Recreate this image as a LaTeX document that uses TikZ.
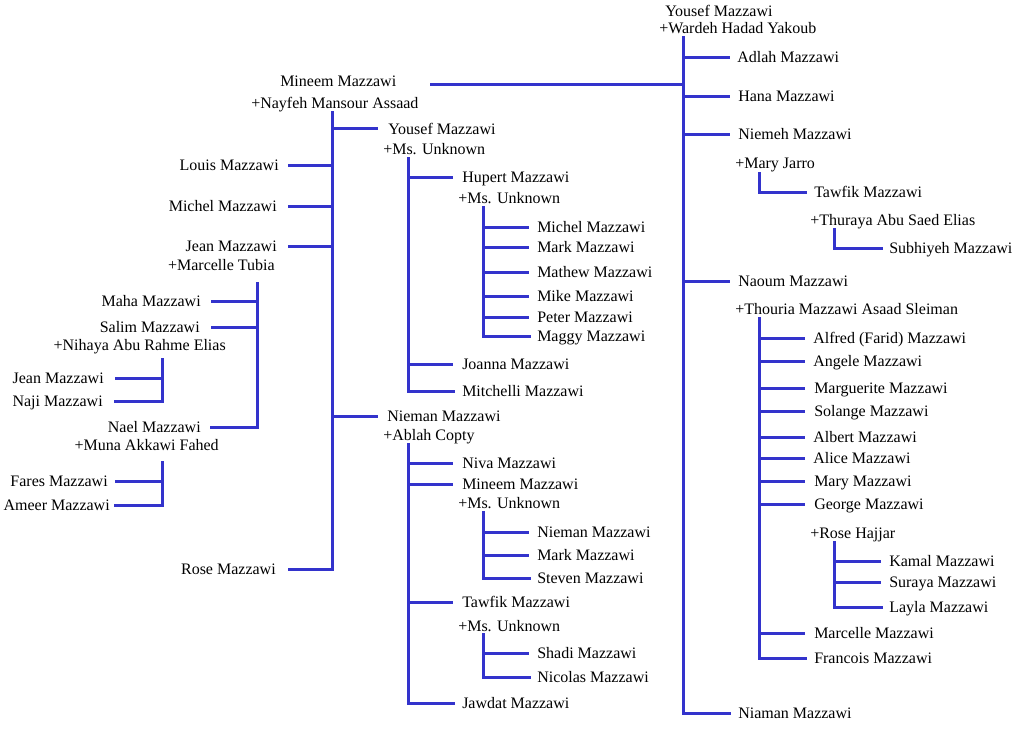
\documentclass[tikz,border=0pt]{standalone}
\usepackage{fontspec}
\setmainfont{Liberation Serif}
\definecolor{treeblue}{RGB}{51,51,204}
\begin{document}
\begin{tikzpicture}[x=0.75pt,y=-0.75pt,
  R/.style={anchor=base west, yshift=-3.75pt, inner sep=0pt, font=\fontsize{12}{14}\selectfont},
  L/.style={anchor=base east, yshift=-3.75pt, inner sep=0pt, font=\fontsize{12}{14}\selectfont},
  bar/.style={draw=treeblue, line width=2.25pt, line cap=rect},
  stub/.style={draw=treeblue, line width=2.25pt}]
\useasboundingbox (0,0) rectangle (1022,729);

% ---------- root (top right) ----------
\node[R] (yousefA) at (665,11) {Yousef Mazzawi};
\node[R] (wardeh) at (659,28) {+Wardeh Hadad Yakoub};
\node[R] (adlah) at (737,57) {Adlah Mazzawi};
\node[R] (hana) at (738,96) {Hana Mazzawi};
\node[R] (niemeh) at (738,134) {Niemeh Mazzawi};
\node[R] (maryj) at (735,163) {+Mary Jarro};
\node[R] (tawfikA) at (814,192) {Tawfik Mazzawi};
\node[R] (thuraya) at (810,220) {+Thuraya Abu Saed Elias};
\node[R] (subhiyeh) at (889,248) {Subhiyeh Mazzawi};
\node[R] (naoum) at (738,281) {Naoum Mazzawi};
\node[R] (thouria) at (735,309) {+Thouria Mazzawi Asaad Sleiman};
\node[R] (alfred) at (813,338) {Alfred (Farid) Mazzawi};
\node[R] (angele) at (813,361) {Angele Mazzawi};
\node[R] (marguerite) at (814,388) {Marguerite Mazzawi};
\node[R] (solange) at (814,411) {Solange Mazzawi};
\node[R] (albert) at (813,437) {Albert Mazzawi};
\node[R] (alice) at (813,458) {Alice Mazzawi};
\node[R] (maryM) at (814,481) {Mary Mazzawi};
\node[R] (george) at (814,504) {George Mazzawi};
\node[R] (roseh) at (810,533) {+Rose Hajjar};
\node[R] (kamal) at (889,561) {Kamal Mazzawi};
\node[R] (suraya) at (889,582) {Suraya Mazzawi};
\node[R] (layla) at (889,607) {Layla Mazzawi};
\node[R] (marcelleM) at (814,633) {Marcelle Mazzawi};
\node[R] (francois) at (814,658) {Francois Mazzawi};
\node[R] (niaman) at (738,713) {Niaman Mazzawi};

\draw[bar] (683,37) -- (683,713) -- (729,713);
\foreach \y in {57,96,134,281} \draw[stub] (683,\y) -- (730,\y);
\draw[stub] (430,84) -- (683,84);
\draw[bar] (759,173) -- (759,192) -- (805,192);
\draw[bar] (834,229) -- (834,248) -- (881,248);
\draw[bar] (759,318) -- (759,658) -- (805,658);
\foreach \y in {338,361,388,411,437,458,481,504,633} \draw[stub] (759,\y) -- (805,\y);
\draw[bar] (834,542) -- (834,607) -- (881,607);
\foreach \y in {561,582} \draw[stub] (834,\y) -- (881,\y);

% ---------- Mineem family ----------
\node[R] (mineemA) at (280,81) {Mineem Mazzawi};
\node[R] (nayfeh) at (251,103) {+Nayfeh Mansour Assaad};

\node[L] (louis) at (279,165) {Louis Mazzawi};
\node[L] (michelA) at (277,206) {Michel Mazzawi};
\node[L] (jeanA) at (277,246) {Jean Mazzawi};
\node[L] (marcelleT) at (275,265) {+Marcelle Tubia};
\node[L] (maha) at (201,301) {Maha Mazzawi};
\node[L] (salim) at (200,327) {Salim Mazzawi};
\node[L] (nihaya) at (226,345) {+Nihaya Abu Rahme Elias};
\node[L] (jeanB) at (104,378) {Jean Mazzawi};
\node[L] (naji) at (103,401) {Naji Mazzawi};
\node[L] (nael) at (201,427) {Nael Mazzawi};
\node[L] (muna) at (219,445) {+Muna Akkawi Fahed};
\node[L] (fares) at (108,481) {Fares Mazzawi};
\node[L] (ameer) at (110,505) {Ameer Mazzawi};
\node[L] (roseM) at (276,569) {Rose Mazzawi};

\draw[bar] (332,112) -- (332,569) -- (289,569);
\foreach \y in {165,206,246} \draw[stub] (332,\y) -- (288,\y);
\foreach \y in {128,416} \draw[stub] (332,\y) -- (378,\y);
\draw[bar] (257,283) -- (257,427) -- (211,427);
\foreach \y in {301,327} \draw[stub] (257,\y) -- (211,\y);
\draw[bar] (162,359) -- (162,401) -- (115,401);
\draw[stub] (162,378) -- (115,378);
\draw[bar] (162,462) -- (162,505) -- (115,505);
\draw[stub] (162,481) -- (115,481);

% ---------- middle ----------
\node[R] (yousefB) at (388,129) {Yousef Mazzawi};
\node[R] (msuA) at (383,149) {+Ms. Unknown};
\node[R] (hupert) at (462,177) {Hupert Mazzawi};
\node[R] (msuB) at (458,198) {+Ms. Unknown};
\node[R] (michelB) at (537,227) {Michel Mazzawi};
\node[R] (markA) at (537,247) {Mark Mazzawi};
\node[R] (mathew) at (537,272) {Mathew Mazzawi};
\node[R] (mike) at (537,296) {Mike Mazzawi};
\node[R] (peter) at (537,317) {Peter Mazzawi};
\node[R] (maggy) at (537,336) {Maggy Mazzawi};
\node[R] (joanna) at (462,364) {Joanna Mazzawi};
\node[R] (mitchelli) at (462,391) {Mitchelli Mazzawi};

\draw[bar] (408,158) -- (408,391) -- (453,391);
\foreach \y in {177,364} \draw[stub] (408,\y) -- (453,\y);
\draw[bar] (483,207) -- (483,336) -- (529,336);
\foreach \y in {227,247,272,296,317} \draw[stub] (483,\y) -- (529,\y);

\node[R] (niemanA) at (387,416) {Nieman Mazzawi};
\node[R] (ablah) at (383,435) {+Ablah Copty};
\node[R] (niva) at (462,463) {Niva Mazzawi};
\node[R] (mineemB) at (462,484) {Mineem Mazzawi};
\node[R] (msuC) at (458,503) {+Ms. Unknown};
\node[R] (niemanB) at (537,532) {Nieman Mazzawi};
\node[R] (markB) at (537,555) {Mark Mazzawi};
\node[R] (steven) at (537,578) {Steven Mazzawi};
\node[R] (tawfikB) at (462,602) {Tawfik Mazzawi};
\node[R] (msuD) at (458,626) {+Ms. Unknown};
\node[R] (shadi) at (537,653) {Shadi Mazzawi};
\node[R] (nicolas) at (537,677) {Nicolas Mazzawi};
\node[R] (jawdat) at (462,703) {Jawdat Mazzawi};

\draw[bar] (408,444) -- (408,703) -- (453,703);
\foreach \y in {463,484,602} \draw[stub] (408,\y) -- (453,\y);
\draw[bar] (483,512) -- (483,578) -- (529,578);
\foreach \y in {532,555} \draw[stub] (483,\y) -- (529,\y);
\draw[bar] (483,634) -- (483,677) -- (529,677);
\draw[stub] (483,653) -- (529,653);
\end{tikzpicture}
\end{document}
